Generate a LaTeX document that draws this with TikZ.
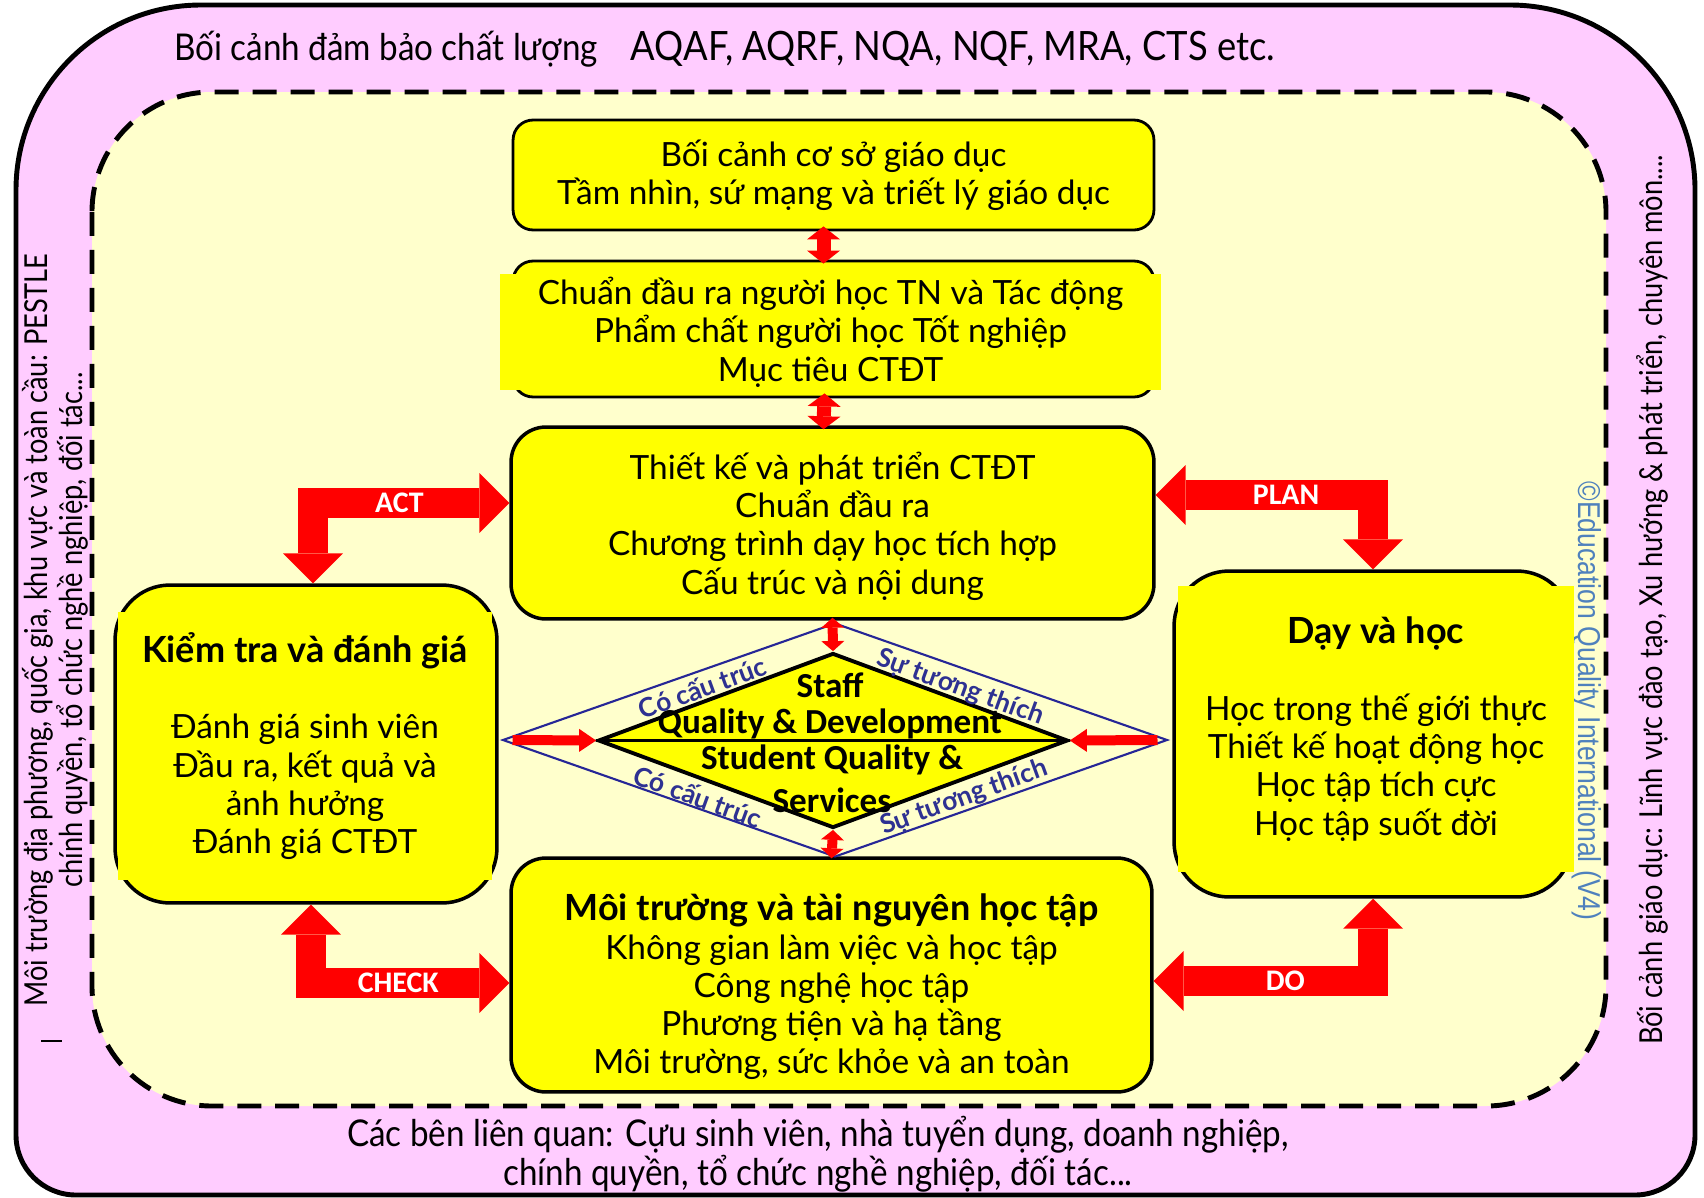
\documentclass[tikz,border=0pt]{standalone}
\usepackage{fontspec}
\setmainfont{Lato}
\newfontfamily\condfont[FakeStretch=0.9]{Lato}
\newfontfamily\sidecondfont[FakeStretch=0.86]{Lato}
\newfontfamily\calfont{Carlito}
\newfontfamily\narrowfont[FakeStretch=0.84]{Liberation Sans}
\usetikzlibrary{arrows.meta}
\usetikzlibrary{shapes.geometric}

\definecolor{pinkbg}{RGB}{255,204,255}
\definecolor{creambg}{RGB}{255,255,204}
\definecolor{boxyellow}{RGB}{255,255,0}
\definecolor{navyline}{RGB}{38,38,150}
\definecolor{navytext}{RGB}{46,49,146}
\definecolor{eqiblue}{RGB}{79,129,189}

\newcommand{\boxfont}{\fontsize{19}{21.8}\selectfont}
\newcommand{\headfont}{\bfseries\fontsize{20.5}{21.8}\selectfont}
\newcommand{\framefont}{\condfont\fontsize{21}{22.2}\selectfont}
\newcommand{\sidefont}{\sidecondfont\fontsize{18}{19.8}\selectfont}

\tikzset{
  box/.style={draw=black, line width=2pt, fill=boxyellow, rounded corners=0.7cm,
              inner sep=0pt, align=center, font=\boxfont},
  patch/.style={fill=boxyellow, inner sep=0pt, align=center, font=\boxfont},
  pdca/.style={draw=red, line width=0.6cm,
               {Triangle[width=1.2cm,length=0.6cm,line width=0pt]}-{Triangle[width=1.2cm,length=0.6cm,line width=0pt]}},
  pdcalabel/.style={text=white, font=\calfont\bfseries\fontsize{17}{17}\selectfont},
  dblarrow/.style={draw=red, line width=0.28cm,
               {Triangle[width=0.66cm,length=0.26cm,line width=0pt]}-{Triangle[width=0.66cm,length=0.26cm,line width=0pt]}},
  diadbl/.style={draw=red, line width=0.2cm,
               {Triangle[width=0.46cm,length=0.2cm,line width=0pt]}-{Triangle[width=0.46cm,length=0.2cm,line width=0pt]}},
  diaarrow/.style={draw=red, line width=0.2cm, -{Triangle[width=0.46cm,length=0.34cm,line width=0pt]}},
  linkname/.style={text=navytext, font=\bfseries\fontsize{15}{15}\selectfont, inner sep=0pt},
  diatext/.style={font=\calfont\bfseries\fontsize{20}{20}\selectfont, inner sep=0pt}
}

\begin{document}
\begin{tikzpicture}[x=0.02cm, y=-0.02cm]
\useasboundingbox (0,0) rectangle (1704,1197);
\fill[white] (0,0) rectangle (1704,1197);

% outer frame and dashed inner frame
\path[draw=black, line width=2.8pt, fill=pinkbg]
  (16,600) {[rounded corners=3.7cm] -- (16,5) -- (1695,5) -- (1695,600)}
  {[rounded corners=1.2cm] -- (1695,1195) -- (16,1195) -- (16,600)} -- cycle;
\draw[black, line width=2.8pt, dash pattern=on 0.48cm off 0.28cm, fill=creambg,
      rounded corners=2.4cm] (92,92) rectangle (1606,1106);

\node[font=\framefont] (qa) at (386,49) {Bối cảnh đảm bảo chất lượng};
\node[font=\condfont\fontsize{23}{23}\selectfont] (frameworks) at (953,49)
  {AQAF, AQRF, NQA, NQF, MRA, CTS etc.};
\node[font=\framefont, align=center] (stakeholders) at (818,1154)
  {Các bên liên quan: Cựu sinh viên, nhà tuyển dụng, doanh nghiệp,\\
   chính quyền, tổ chức nghề nghiệp, đối tác...};
\node[font=\sidefont, align=center, rotate=90] (environment) at (55,630)
  {Môi trường địa phương, quốc gia, khu vực và toàn cầu: PESTLE\\
   chính quyền, tổ chức nghề nghiệp, đối tác...};
\node[font=\sidefont, rotate=90] (education) at (1652,600)
  {Bối cảnh giáo dục: Lĩnh vực đào tạo, Xu hướng \& phát triển, chuyên môn....};
\node[font=\narrowfont\fontsize{18}{18}\selectfont, text=eqiblue, rotate=-90] (copyright)
  at (1587,701) {©Education Quality International (V4)};
\draw[black, line width=0.6pt] (41,1041) -- (62,1041);

% boxes
\node[box, rounded corners=0.4cm, line width=1.6pt, minimum width=12.82cm, minimum height=2.2cm]
  (context) at (833.5,175) {Bối cảnh cơ sở giáo dục\\Tầm nhìn, sứ mạng và triết lý giáo dục};
\node[box, rounded corners=0.4cm, line width=1.6pt, minimum width=12.82cm, minimum height=2.72cm]
  (outcomes) at (833.5,329) {};
\node[patch, minimum width=13.22cm, minimum height=2.32cm] (outcomestext) at (830.5,332)
  {Chuẩn đầu ra người học TN và Tác động\\Phẩm chất người học Tốt nghiệp\\Mục tiêu CTĐT};
\node[box, minimum width=12.86cm, minimum height=3.84cm] (design) at (832.5,523) {};
\node[font=\boxfont, align=center] (designtext) at (832.5,526)
  {Thiết kế và phát triển CTĐT\\Chuẩn đầu ra\\Chương trình dạy học tích hợp\\Cấu trúc và nội dung};
\node[box, rounded corners=1.1cm, minimum width=7.64cm, minimum height=6.36cm] (assess) at (306,744) {};
\node[patch, minimum width=7.48cm, minimum height=5.36cm] (assesstext) at (305,746)
  {{\headfont Kiểm tra và đánh giá}\\[21.8pt]Đánh giá sinh viên\\Đầu ra, kết quả và\\ảnh hưởng\\Đánh giá CTĐT};
\node[box, rounded corners=1.1cm, minimum width=7.96cm, minimum height=6.52cm] (teach) at (1373,734) {};
\node[patch, minimum width=7.92cm, minimum height=5.74cm] (teachtext) at (1376,729)
  {{\headfont Dạy và học}\\[21.8pt]Học trong thế giới thực\\Thiết kế hoạt động học\\Học tập tích cực\\Học tập suốt đời};
\node[box, minimum width=12.82cm, minimum height=4.68cm] (env) at (831.5,975) {};
\node[font=\boxfont, align=center] (envtext) at (831.5,987)
  {{\headfont Môi trường và tài nguyên học tập}\\Không gian làm việc và học tập\\Công nghệ học tập\\Phương tiện và hạ tầng\\Môi trường, sức khỏe và an toàn};

\draw[dblarrow] ([xshift=-0.2cm,yshift=0.1cm]context.south) -- ([xshift=-0.2cm,yshift=-0.08cm]outcomes.north);
\draw[dblarrow] ([xshift=-0.18cm,yshift=0.1cm]outcomes.south) -- ([xshift=-0.18cm,yshift=-0.08cm]design.north);

% quality diamond
\node[diamond, draw=navyline, line width=1.2pt, minimum width=13.3cm, minimum height=4.68cm,
      inner sep=0pt] (outerdia) at (835,740) {};
\node[diamond, draw=black, fill=boxyellow, line width=2.2pt, minimum width=9.4cm,
      minimum height=3.5cm, inner sep=0pt] (innerdia) at (833,740.5) {};
\draw[black, line width=2.2pt] (innerdia.west) -- (innerdia.east);
\node[diatext] (staff) at (830,685) {Staff};
\node[diatext] (staffq) at (830,724) {Quality \& Development};
\node[diatext] (student) at (832,760) {Student Quality \&};
\node[diatext] (services) at (832,800) {Services};
\node[linkname, rotate=20] (structul) at (702,687) {Có cấu trúc};
\node[linkname, rotate=-20] (fitur) at (960,688) {Sự tương thích};
\node[linkname, rotate=-20] (structll) at (698,796) {Có cấu trúc};
\node[linkname, rotate=20] (fitlr) at (964,798) {Sự tương thích};
\draw[diaarrow] ([xshift=0.22cm]outerdia.west) -- (innerdia.west);
\draw[diaarrow] ([xshift=-0.22cm]outerdia.east) -- (innerdia.east);
\draw[diadbl] ([yshift=0.06cm]design.south) -- (innerdia.north);
\draw[diadbl] (innerdia.south) -- ([yshift=-0.04cm]env.north);

% PDCA cycle
\draw[pdca] ([xshift=0.14cm]assess.north) |- ([yshift=0.4cm]design.west)
  node[pdcalabel, pos=0.72] {ACT};
\draw[pdca] ([yshift=0.56cm]design.east) -| (teach.north)
  node[pdcalabel, pos=0.3] {PLAN};
\draw[pdca] ([xshift=0.1cm]assess.south) |- ([yshift=-0.16cm]env.west)
  node[pdcalabel, pos=0.72] {CHECK};
\draw[pdca] ([yshift=-0.12cm]env.east) -| (teach.south)
  node[pdcalabel, pos=0.3] {DO};
\end{tikzpicture}
\end{document}
